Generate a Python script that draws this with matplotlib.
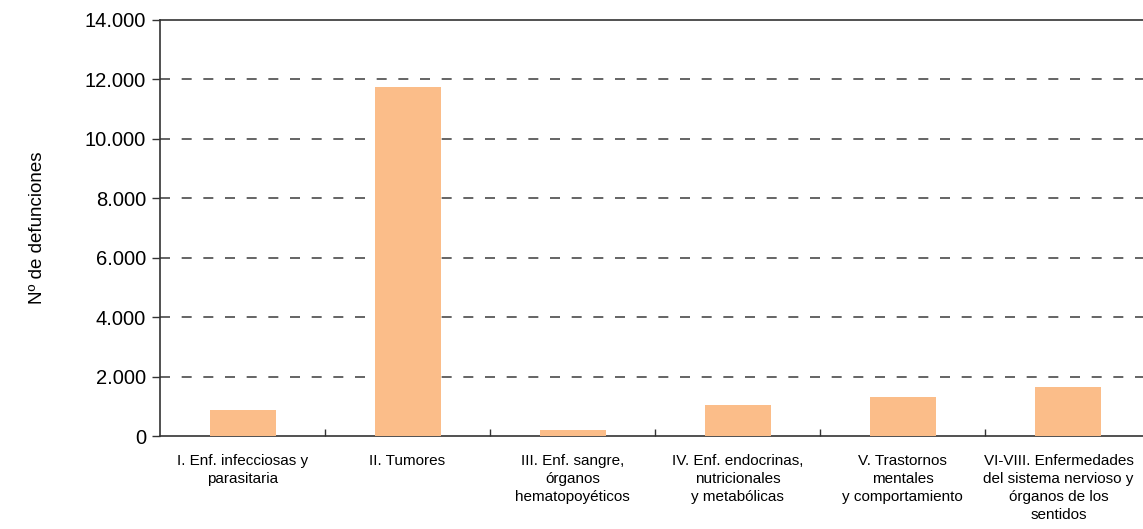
import matplotlib.pyplot as plt
import matplotlib.transforms as mtransforms
import numpy as np
from matplotlib.ticker import FuncFormatter, FixedLocator

categories = [
    "I. Enf. infecciosas y\nparasitaria",
    "II. Tumores",
    "III. Enf. sangre,\nórganos\nhematopoyéticos",
    "IV. Enf. endocrinas,\nnutricionales\ny metabólicas",
    "V. Trastornos\nmentales\ny comportamiento",
    "VI-VIII. Enfermedades\ndel sistema nervioso y\nórganos de los\nsentidos",
]
defunciones = [880, 11750, 200, 1040, 1310, 1650]
y_ticks = [0, 2000, 4000, 6000, 8000, 10000, 12000, 14000]

plt.rcParams["font.family"] = ["Liberation Sans", "DejaVu Sans"]

fig = plt.figure(figsize=(11.43, 5.29), dpi=100)
ax = fig.add_axes([160 / 1143, 1 - 436 / 529, 990 / 1143, 416 / 529])

x = np.arange(len(categories))
ax.bar(x, defunciones, width=0.4, color="#fbbd89", zorder=3)

ax.set_xlim(-0.5, len(categories) - 0.5)
ax.set_ylim(0, 14000)

# dashed reference lines, not at the top (that's the spine)
for v in y_ticks[1:-1]:
    ax.axhline(v, color="#4a4a4a", lw=1.2, ls=(0, (6, 7)), zorder=1)

ax.set_yticks(y_ticks)
ax.yaxis.set_major_formatter(FuncFormatter(lambda v, _: f"{int(v):,}".replace(",", ".")))
ax.tick_params(axis="y", length=6, width=1, labelsize=14.5, pad=4, color="#333333")

ax.set_xticks(x)
ax.set_xticklabels(categories, fontsize=11, linespacing=1.35)
ax.tick_params(axis="x", which="major", length=0, pad=13)
ax.xaxis.set_minor_locator(FixedLocator(x[:-1] + 0.5))
ax.tick_params(axis="x", which="minor", length=5, width=1, color="#333333", direction="in")

# last label sits a bit left so it stays inside the figure
last = ax.get_xticklabels()[-1]
last.set_transform(last.get_transform() + mtransforms.ScaledTranslation(-9 / 100, 0, fig.dpi_scale_trans))

for side in ["left", "bottom", "top"]:
    ax.spines[side].set_color("#333333")
    ax.spines[side].set_linewidth(1.2)
ax.spines["right"].set_visible(False)

ax.set_ylabel("Nº de defunciones", fontsize=13.5, labelpad=28)

fig.savefig("out.png", dpi=100)
